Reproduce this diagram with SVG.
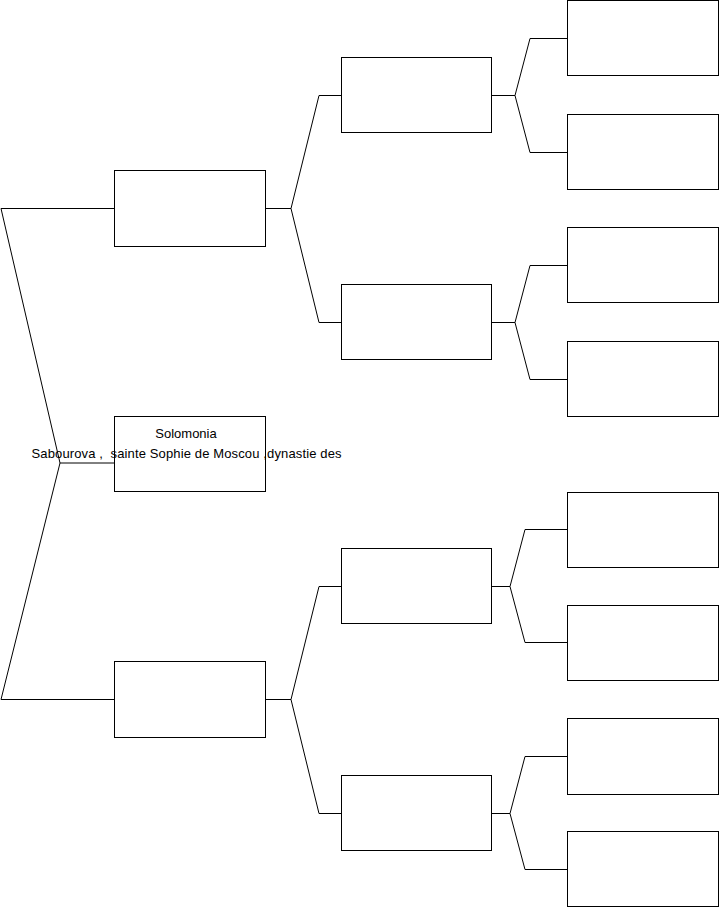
<svg xmlns="http://www.w3.org/2000/svg" width="719" height="908" viewBox="0 0 719 908">
<style>
.box{fill:#fff;stroke:#000;stroke-width:1}
.ln{fill:none;stroke:#000;stroke-width:1}
.t{font-family:"Liberation Sans",Arial,sans-serif;font-size:13px;fill:#000;text-anchor:middle;white-space:pre}
</style>
<rect width="719" height="908" fill="#fff"/>
<g id="connectors">
<polyline class="ln" points="114,208.5 1,208.5 60,463 1,699.5 114,699.5"/>
<polyline class="ln" points="60,463 114,463"/>
<polyline class="ln" points="341,95.5 319,95.5 291,208.5 265,208.5"/>
<polyline class="ln" points="291,208.5 319,322.5 341,322.5"/>
<polyline class="ln" points="341,586.5 319,586.5 291,699.5 265,699.5"/>
<polyline class="ln" points="291,699.5 319,813.5 341,813.5"/>
<polyline class="ln" points="567,38.5 530,38.5 515,95.5 492,95.5"/>
<polyline class="ln" points="515,95.5 530,152.5 567,152.5"/>
<polyline class="ln" points="567,265.5 530,265.5 515,322.5 492,322.5"/>
<polyline class="ln" points="515,322.5 530,379.5 567,379.5"/>
<polyline class="ln" points="567,529.5 525,529.5 510,586.5 492,586.5"/>
<polyline class="ln" points="510,586.5 525,642.5 567,642.5"/>
<polyline class="ln" points="567,756.5 525,756.5 510,813.5 492,813.5"/>
<polyline class="ln" points="510,813.5 525,869.5 567,869.5"/>
</g>
<g id="n1"><rect class="box" x="114.5" y="170.5" width="151" height="76"/></g>
<g id="n2"><rect class="box" x="114.5" y="416.5" width="151" height="75"/></g>
<g id="n3"><rect class="box" x="114.5" y="661.5" width="151" height="76"/></g>
<g id="n4"><rect class="box" x="341.5" y="57.5" width="150" height="75"/></g>
<g id="n5"><rect class="box" x="341.5" y="284.5" width="150" height="75"/></g>
<g id="n6"><rect class="box" x="341.5" y="548.5" width="150" height="75"/></g>
<g id="n7"><rect class="box" x="341.5" y="775.5" width="150" height="75"/></g>
<g id="n8"><rect class="box" x="567.5" y="0.5" width="151" height="75"/></g>
<g id="n9"><rect class="box" x="567.5" y="114.5" width="151" height="75"/></g>
<g id="n10"><rect class="box" x="567.5" y="227.5" width="151" height="75"/></g>
<g id="n11"><rect class="box" x="567.5" y="341.5" width="151" height="75"/></g>
<g id="n12"><rect class="box" x="567.5" y="492.5" width="151" height="75"/></g>
<g id="n13"><rect class="box" x="567.5" y="605.5" width="151" height="75"/></g>
<g id="n14"><rect class="box" x="567.5" y="718.5" width="151" height="76"/></g>
<g id="n15"><rect class="box" x="567.5" y="831.5" width="151" height="75"/></g>
<g id="n2-text">
<text class="t" x="186" y="437.5">Solomonia</text>
<text class="t" x="186.5" y="458" xml:space="preserve" textLength="310" lengthAdjust="spacing">Sabourova ,  sainte Sophie de Moscou ,dynastie des</text>
</g>
</svg>
